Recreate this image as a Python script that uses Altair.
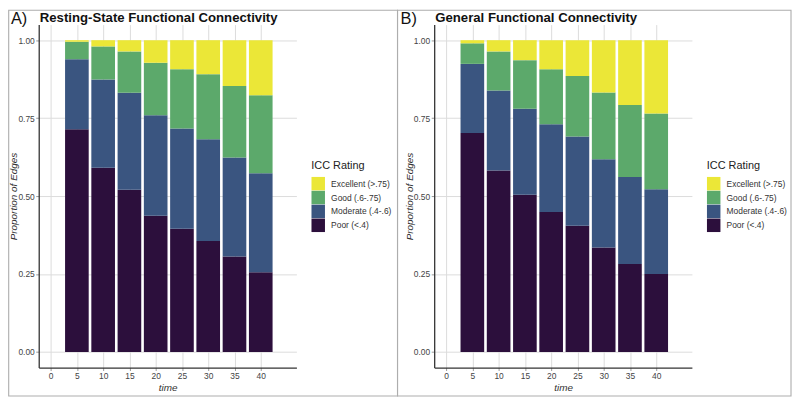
import altair as alt
import pandas as pd

times = [5, 10, 15, 20, 25, 30, 35, 40]
categories = ["Excellent (>.75)", "Good (.6-.75)", "Moderate (.4-.6)", "Poor (<.4)"]
colors = ["#EBE737", "#5CA96B", "#3A5580", "#2C0F3C"]

# Panel A: Resting-State Functional Connectivity (proportions per rating)
rs_poor = [0.714, 0.591, 0.520, 0.437, 0.395, 0.356, 0.306, 0.256]
rs_moderate = [0.225, 0.283, 0.311, 0.322, 0.322, 0.326, 0.318, 0.317]
rs_good = [0.056, 0.106, 0.133, 0.169, 0.190, 0.209, 0.229, 0.250]
rs_excellent = [0.005, 0.020, 0.036, 0.072, 0.093, 0.109, 0.147, 0.177]

# Panel B: General Functional Connectivity
gen_poor = [0.702, 0.582, 0.504, 0.449, 0.405, 0.335, 0.282, 0.250]
gen_moderate = [0.222, 0.257, 0.276, 0.281, 0.286, 0.283, 0.279, 0.272]
gen_good = [0.066, 0.125, 0.156, 0.177, 0.194, 0.214, 0.231, 0.243]
gen_excellent = [0.010, 0.036, 0.064, 0.093, 0.115, 0.168, 0.208, 0.235]

x_ticks = [0, 5, 10, 15, 20, 25, 30, 35, 40]
y_ticks = [0.0, 0.25, 0.5, 0.75, 1.0]

FONT = "Liberation Sans"
W, H = 260, 346


def build_table(poor, moderate, good, excellent):
    rows = []
    for i, t in enumerate(times):
        base = 0.0
        for cat, vals in [(categories[3], poor), (categories[2], moderate),
                          (categories[1], good), (categories[0], excellent)]:
            rows.append({"time": t, "rating": cat, "y0": base, "y1": base + vals[i]})
            base += vals[i]
    return pd.DataFrame(rows)


def panel(df, letter, title, bx1, bx2, lx):
    one = pd.DataFrame({"k": [0]})
    border = alt.Chart(one).mark_rect(
        filled=False, stroke="#ADADAD", strokeWidth=1.1
    ).encode(
        x=alt.value(bx1), x2=alt.value(bx2), y=alt.value(-14.4), y2=alt.value(374.7)
    )
    bars = alt.Chart(df).transform_calculate(
        xa="datum.time - 2.25", xb="datum.time + 2.25"
    ).mark_rect().encode(
        x=alt.X("xa:Q",
                scale=alt.Scale(domain=[-2.264, 46.79], nice=False, zero=False),
                axis=alt.Axis(values=x_ticks, title="time", format="d")),
        x2="xb:Q",
        y=alt.Y("y0:Q",
                scale=alt.Scale(domain=[-0.05, 1.05], nice=False, zero=False),
                axis=alt.Axis(values=y_ticks, format=".2f", title="Proportion of Edges",
                              titleX=-20, titleY=H / 2)),
        y2="y1:Q",
        color=alt.Color(
            "rating:N",
            scale=alt.Scale(domain=categories, range=colors),
            legend=alt.Legend(
                orient="none", legendX=275, legendY=136.5, title="ICC Rating",
                symbolType="square", symbolSize=185, symbolStrokeWidth=0,
                rowPadding=0, titlePadding=6, labelFontSize=8.5, titleFontSize=11,
                titleFontWeight="normal", labelOffset=6, labelColor="#333333",
                titleColor="#222222", labelFont=FONT, titleFont=FONT,
            ),
        ),
    )
    letter_txt = alt.Chart(pd.DataFrame({"t": [letter]})).mark_text(
        align="left", baseline="top", fontSize=16.5, font=FONT, color="#111111"
    ).encode(text="t:N", x=alt.value(lx), y=alt.value(-13.6))
    title_txt = alt.Chart(pd.DataFrame({"t": [title]})).mark_text(
        align="left", baseline="top", fontSize=13.3, fontWeight="bold", font=FONT, color="#111111"
    ).encode(text="t:N", x=alt.value(1), y=alt.value(-13.2))
    return alt.layer(border, bars, letter_txt, title_txt).properties(width=W, height=H)


dfA = build_table(rs_poor, rs_moderate, rs_good, rs_excellent)
dfB = build_table(gen_poor, gen_moderate, gen_good, gen_excellent)

pA = panel(dfA, "A)", "Resting-State Functional Connectivity", -30.3, 362, -28)
pB = panel(dfB, "B)", "General Functional Connectivity", -37, 360, -34)

chart = alt.hconcat(pA, pB, spacing=139, bounds="flush").resolve_scale(
    color="independent"
).resolve_legend(color="independent").properties(
    padding=0
).configure_view(stroke=None).configure_axis(
    labelFont=FONT, titleFont=FONT, labelFontSize=8.5, titleFontSize=10,
    labelColor="#444444", titleColor="#333333", titleFontStyle="italic",
    titleFontWeight="normal", gridColor="#DCDCDC", gridWidth=1,
    domainColor="#333333", domainWidth=1.3, tickColor="#999999", tickSize=3,
    labelPadding=1.5,
).configure_axisX(titlePadding=2)

chart.save("out.html", embed_options={"renderer": "svg", "actions": False})
